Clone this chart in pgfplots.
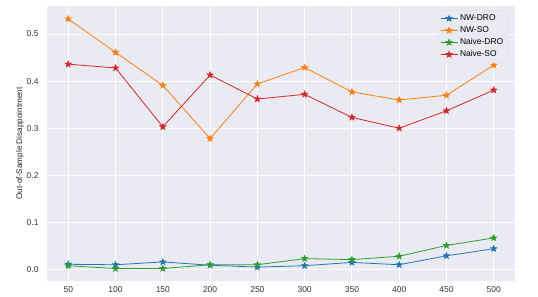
\documentclass[border=0pt]{standalone}
\usepackage{pgfplots}
\pgfplotsset{compat=1.18}
\usepackage{fontspec}
\setmainfont{Liberation Sans}
\definecolor{bgc}{HTML}{EAEAF2}
\definecolor{c1}{HTML}{1F77B4}
\definecolor{c2}{HTML}{FF7F0E}
\definecolor{c3}{HTML}{2CA02C}
\definecolor{c4}{HTML}{D62728}
\pgfdeclareplotmark{fstar}{%
  \pgfpathmoveto{\pgfqpointpolar{90}{\pgfplotmarksize}}%
  \pgfpathlineto{\pgfqpointpolar{126}{0.42\pgfplotmarksize}}%
  \pgfpathlineto{\pgfqpointpolar{162}{\pgfplotmarksize}}%
  \pgfpathlineto{\pgfqpointpolar{198}{0.42\pgfplotmarksize}}%
  \pgfpathlineto{\pgfqpointpolar{234}{\pgfplotmarksize}}%
  \pgfpathlineto{\pgfqpointpolar{270}{0.42\pgfplotmarksize}}%
  \pgfpathlineto{\pgfqpointpolar{306}{\pgfplotmarksize}}%
  \pgfpathlineto{\pgfqpointpolar{342}{0.42\pgfplotmarksize}}%
  \pgfpathlineto{\pgfqpointpolar{18}{\pgfplotmarksize}}%
  \pgfpathlineto{\pgfqpointpolar{54}{0.42\pgfplotmarksize}}%
  \pgfpathclose\pgfusepathqfillstroke}
\begin{document}
\begin{tikzpicture}
\begin{axis}[
  name=ax,
  scale only axis,
  width=468bp, height=275bp,
  xmin=27.5, xmax=522.5,
  ymin=-0.0245, ymax=0.5596,
  xtick={50,100,...,500},
  ytick={0,0.1,0.2,0.3,0.4,0.5},
  yticklabel style={/pgf/number format/fixed, /pgf/number format/fixed zerofill, /pgf/number format/precision=1, xshift=-5bp},
  /pgf/number format/assume math mode=true,
  axis background/.style={fill=bgc},
  axis line style={draw=none},
  major tick length=0pt,
  grid=major,
  grid style={white, line width=1bp},
  ticklabel style={font=\fontsize{8.5}{10}\selectfont, text=black!80},
  xticklabel style={yshift=-2bp},
  ylabel={Out-of-Sample Disappointment},
  ylabel style={font=\fontsize{8.2}{9}\selectfont, text=black!85, yshift=-4bp},
  every axis plot/.append style={line width=0.8bp, mark=fstar, mark size=3bp, mark options={solid}},
  legend style={at={(0.985,0.985)}, anchor=north east, fill=bgc, draw=black!12, rounded corners=2bp,
    font=\fontsize{8.5}{10}\selectfont, row sep=0.5bp, inner sep=2.5bp},
  legend cell align=left,
]
\addplot[color=c1] coordinates {(50,0.011)(100,0.010)(150,0.016)(200,0.009)(250,0.005)(300,0.008)(350,0.015)(400,0.010)(450,0.029)(500,0.044)};
\addlegendentry{NW-DRO}
\addplot[color=c2] coordinates {(50,0.532)(100,0.461)(150,0.391)(200,0.278)(250,0.394)(300,0.429)(350,0.377)(400,0.360)(450,0.370)(500,0.434)};
\addlegendentry{NW-SO}
\addplot[color=c3] coordinates {(50,0.008)(100,0.002)(150,0.002)(200,0.010)(250,0.010)(300,0.023)(350,0.021)(400,0.028)(450,0.051)(500,0.067)};
\addlegendentry{Naive-DRO}
\addplot[color=c4] coordinates {(50,0.436)(100,0.428)(150,0.303)(200,0.413)(250,0.362)(300,0.372)(350,0.323)(400,0.300)(450,0.337)(500,0.381)};
\addlegendentry{Naive-SO}
\end{axis}
\path ([shift={(-47bp,-16bp)}]ax.south west) rectangle ([shift={(23bp,6bp)}]ax.north east);
\end{tikzpicture}
\end{document}
